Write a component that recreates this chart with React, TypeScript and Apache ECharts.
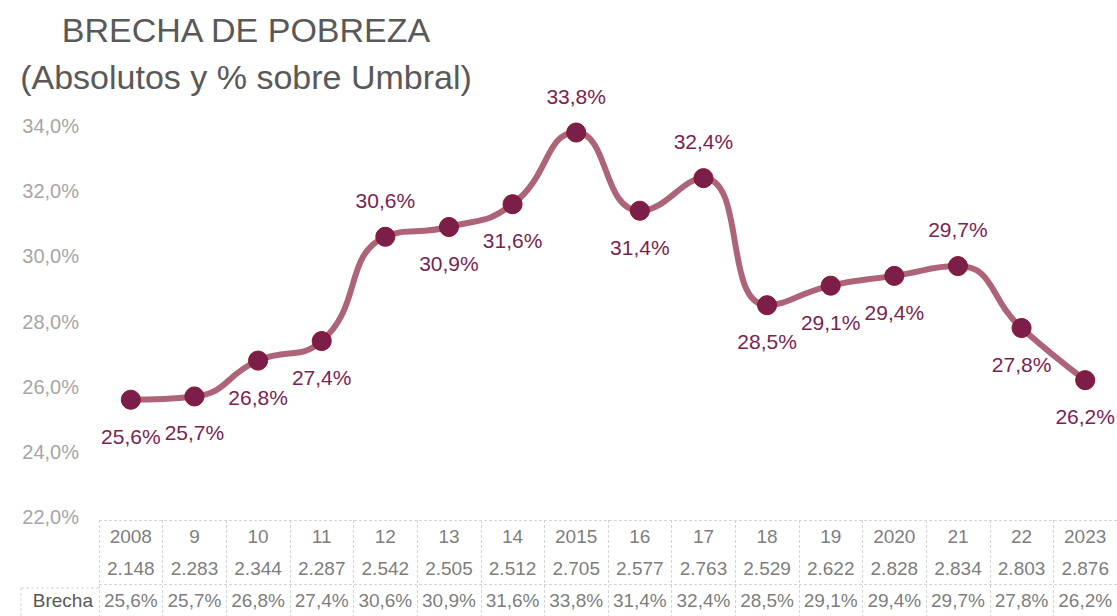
import React, { useEffect, useRef } from "react";
import * as echarts from "echarts";

const yearLabels = ["2008", "9", "10", "11", "12", "13", "14", "2015", "16", "17", "18", "19", "2020", "21", "22", "2023"];
const absolutos = [2148, 2283, 2344, 2287, 2542, 2505, 2512, 2705, 2577, 2763, 2529, 2622, 2828, 2834, 2803, 2876];
const brecha = [25.6, 25.7, 26.8, 27.4, 30.6, 30.9, 31.6, 33.8, 31.4, 32.4, 28.5, 29.1, 29.4, 29.7, 27.8, 26.2];
const labelAbove = ["12", "2015", "17", "21"];
const yTicks = { min: 22, max: 34, interval: 2 };
const tableRows = ["Brecha", "abs", "year"];

const FONT = "'Liberation Sans', Arial, sans-serif";
const fmtPct = (v: number) => v.toFixed(1).replace(".", ",") + "%";
const fmtAbs = (v: number) => {
  const th = Math.floor(v / 1000);
  const rest = String(v % 1000).padStart(3, "0");
  return th + "." + rest;
};

export default function App() {
  const ref = useRef<HTMLDivElement>(null);
  useEffect(() => {
    if (!ref.current) return;
    const chart = echarts.init(ref.current, undefined, { renderer: "svg" });
    const gridLine = "#d4d4d4";
    const tableData: any[] = [];
    yearLabels.forEach((y, i) => {
      tableData.push({ value: [y, "year"], txt: y });
      tableData.push({ value: [y, "abs"], txt: fmtAbs(absolutos[i]) });
      tableData.push({ value: [y, "Brecha"], txt: fmtPct(brecha[i]) });
    });
    chart.setOption({
      animation: false,
      textStyle: { fontFamily: FONT },
      title: {
        text: "BRECHA DE POBREZA\n(Absolutos y % sobre Umbral)",
        left: 246,
        top: 6,
        padding: 0,
        textAlign: "center",
        textStyle: { fontFamily: FONT, fontSize: 34, fontWeight: "normal", color: "#595959", lineHeight: 47 },
      },
      grid: [
        { left: 99, top: 126, width: 1021, height: 391 },
        { left: 99, top: 520, width: 1021, height: 102 },
      ],
      xAxis: [
        {
          type: "category",
          gridIndex: 0,
          data: yearLabels,
          axisLine: { show: false },
          axisTick: { show: false },
          axisLabel: { show: false },
        },
        {
          type: "category",
          gridIndex: 1,
          data: yearLabels,
          axisLine: { show: false },
          axisTick: { show: false },
          axisLabel: { show: false },
          splitLine: { show: true, lineStyle: { color: gridLine, type: [3, 2], width: 1 } },
        },
      ],
      yAxis: [
        {
          type: "value",
          gridIndex: 0,
          min: yTicks.min,
          max: yTicks.max,
          interval: yTicks.interval,
          axisLine: { show: false },
          axisTick: { show: false },
          splitLine: { show: false },
          axisLabel: {
            margin: 20,
            color: "#a6a6a6",
            fontSize: 20,
            fontFamily: FONT,
            formatter: (v: number) => fmtPct(v),
          },
        },
        {
          type: "category",
          gridIndex: 1,
          data: tableRows,
          axisLine: { show: false },
          axisTick: { show: false },
          axisLabel: {
            margin: 6,
            color: "#595959",
            fontSize: 19,
            fontFamily: FONT,
            formatter: (v: string) => (v === "Brecha" ? v : ""),
          },
          splitLine: {
            show: true,
            lineStyle: { color: [gridLine, gridLine, "rgba(0,0,0,0)", gridLine], type: [3, 2], width: 1 },
          },
        },
      ],
      graphic: [
        { type: "line", shape: { x1: 21, y1: 588, x2: 99, y2: 588 }, style: { stroke: gridLine, lineDash: [3, 2], lineWidth: 1 } },
        { type: "line", shape: { x1: 21, y1: 588, x2: 21, y2: 616 }, style: { stroke: gridLine, lineDash: [3, 2], lineWidth: 1 } },
      ],
      series: [
        {
          type: "line",
          xAxisIndex: 0,
          yAxisIndex: 0,
          smooth: 0.5,
          symbol: "circle",
          symbolSize: 19,
          lineStyle: { color: "#ae6478", width: 6 },
          itemStyle: { color: "#7b1f4a", borderColor: "#8e1424", borderWidth: 1 },
          label: {
            show: true,
            fontSize: 21,
            fontFamily: FONT,
            color: "#7b2350",
            distance: 16,
            formatter: (p: any) => fmtPct(p.value),
          },
          data: brecha.map((v, i) => ({
            value: v,
            label: { position: labelAbove.includes(yearLabels[i]) ? "top" : "bottom" },
          })),
          z: 3,
        },
        {
          type: "scatter",
          xAxisIndex: 1,
          yAxisIndex: 1,
          symbolSize: 1,
          itemStyle: { color: "rgba(0,0,0,0)" },
          label: {
            show: true,
            position: "inside",
            fontSize: 19,
            fontFamily: FONT,
            color: "#595959",
            formatter: (p: any) => p.data.txt,
          },
          data: tableData,
        },
      ],
    });
    return () => chart.dispose();
  }, []);
  return <div ref={ref} style={{ position: "absolute", left: 0, top: 0, width: 1117, height: 616 }} />;
}
